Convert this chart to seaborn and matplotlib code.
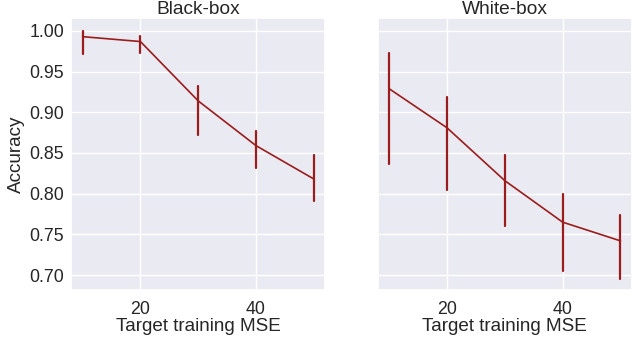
import numpy as np
import pandas as pd
import seaborn as sns
import matplotlib
matplotlib.use('Agg')
import matplotlib.pyplot as plt

mse = [10, 20, 30, 40, 50]

# black-box attack accuracy (center, lower, upper of the error bar)
bb_acc = [0.993, 0.987, 0.914, 0.859, 0.818]
bb_low = [0.972, 0.973, 0.872, 0.831, 0.791]
bb_high = [1.000, 0.994, 0.932, 0.877, 0.847]

# white-box attack accuracy
wb_acc = [0.929, 0.881, 0.816, 0.765, 0.742]
wb_low = [0.837, 0.804, 0.760, 0.705, 0.695]
wb_high = [0.973, 0.919, 0.848, 0.799, 0.774]

line_color = '#9b1c1c'


def to_long(acc, low, high):
    # three rows per x: median gives the center, pi 100 gives the bar ends
    rows = []
    for x, c, lo, hi in zip(mse, acc, low, high):
        rows += [(x, lo), (x, c), (x, hi)]
    return pd.DataFrame(rows, columns=['mse', 'acc'])


sns.set_theme(style='darkgrid')
plt.rcParams['font.family'] = ['Liberation Sans', 'DejaVu Sans']

fig, axes = plt.subplots(1, 2, figsize=(6.4, 3.59), dpi=100, sharey=True)
fig.subplots_adjust(left=0.111, right=0.9875, top=0.95, bottom=0.192, wspace=0.205)

panels = [('Black-box', bb_acc, bb_low, bb_high), ('White-box', wb_acc, wb_low, wb_high)]
for ax, (title, acc, low, high) in zip(axes, panels):
    df = to_long(acc, low, high)
    sns.lineplot(data=df, x='mse', y='acc', estimator='median', errorbar=('pi', 100),
                 err_style='bars', color=line_color, linewidth=1.2,
                 err_kws={'linewidth': 1.6, 'capsize': 0}, ax=ax)
    ax.set_title(title, fontsize=13.8, pad=3)
    ax.set_xlabel('Target training MSE', fontsize=13.6, labelpad=0)
    ax.set_xticks([20, 40])
    ax.set_xlim(8, 52)
    ax.tick_params(axis='x', labelsize=12.8, pad=2)
    ax.tick_params(axis='y', labelsize=12.8, length=0, pad=5)

axes[0].set_ylim(0.6815, 1.016)
axes[0].set_yticks([0.70, 0.75, 0.80, 0.85, 0.90, 0.95, 1.00])
axes[0].set_yticklabels(['0.70', '0.75', '0.80', '0.85', '0.90', '0.95', '1.00'])
axes[0].set_ylabel('Accuracy', fontsize=13.6, labelpad=3)
axes[1].set_ylabel('')

fig.savefig('out.png', dpi=100)
